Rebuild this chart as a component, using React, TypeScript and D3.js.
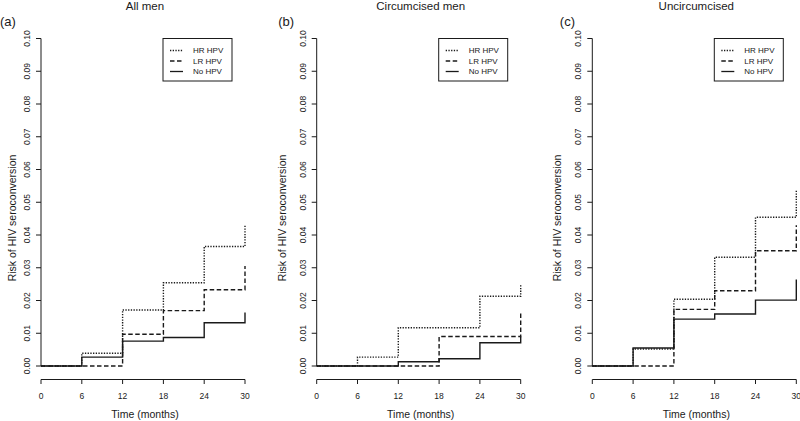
import React from "react";
import * as d3 from "d3";

const times = [0, 6, 12, 18, 24, 30];
const xTicks = [0, 6, 12, 18, 24, 30];
const yTicks = [0, 0.01, 0.02, 0.03, 0.04, 0.05, 0.06, 0.07, 0.08, 0.09, 0.1];
const panelTitles = ["All men", "Circumcised men", "Uncircumcised"];
const panelTags = ["(a)", "(b)", "(c)"];
const seriesNames = ["HR HPV", "LR HPV", "No HPV"];

const allMenHR = [0, 0.0039, 0.0171, 0.0254, 0.0365, 0.0428];
const allMenLR = [0, 0, 0.0097, 0.0169, 0.0233, 0.0305];
const allMenNo = [0, 0.0027, 0.0076, 0.0087, 0.0132, 0.0163];

const circHR = [0, 0.0027, 0.0117, 0.0117, 0.0213, 0.0251];
const circLR = [0, 0, 0, 0.009, 0.009, 0.0162];
const circNo = [0, 0, 0.0013, 0.0022, 0.0071, 0.009];

const uncircHR = [0, 0.0052, 0.0204, 0.0332, 0.0454, 0.0537];
const uncircLR = [0, 0, 0.0173, 0.023, 0.0352, 0.043];
const uncircNo = [0, 0.0055, 0.0143, 0.0159, 0.0201, 0.0264];

const panels = [
  [allMenHR, allMenLR, allMenNo],
  [circHR, circLR, circNo],
  [uncircHR, uncircLR, uncircNo],
];

const dashes = ["1.3,1.4", "4.5,2.5", null];
const panelX0 = [41, 316.7, 592.3];
const yLabelOffset = [-29, -35, -35.5];
const FONT = "'Liberation Sans', Arial, Helvetica, sans-serif";
const INK = "#1a1a1a";

function Panel({ idx }: { idx: number }) {
  const x0 = panelX0[idx];
  const x = d3.scaleLinear().domain([0, 30]).range([x0, x0 + 204]);
  const y = d3.scaleLinear().domain([0, 0.1]).range([366, 38.5]);
  const line = d3
    .line<[number, number]>()
    .x((d) => x(d[0]))
    .y((d) => y(d[1]))
    .curve(d3.curveStepAfter);
  const series = panels[idx];
  const order = [2, 1, 0];
  const axisY = 379.5;
  const cx = x0 + 104;
  const lx = x0 + 122;
  const ly = 38.5;
  return (
    <g>
      <text x={cx} y={10} textAnchor="middle" fontSize={11.5} fill={INK} fontFamily={FONT}>
        {panelTitles[idx]}
      </text>
      <text x={x0 - 41 + (idx === 0 ? 0 : idx === 1 ? 2.5 : 8.5)} y={26} fontSize={13} fill={INK} fontFamily={FONT}>
        {panelTags[idx]}
      </text>
      {order.map((s) => (
        <path
          key={s}
          d={line(times.map((t, i) => [t, series[s][i]] as [number, number])) || ""}
          fill="none"
          stroke={INK}
          strokeWidth={1.4}
          strokeDasharray={dashes[s] || undefined}
        />
      ))}
      {/* y axis */}
      <line x1={x0} x2={x0} y1={y(0)} y2={y(0.1)} stroke={INK} strokeWidth={1} />
      {yTicks.map((t) => (
        <g key={t}>
          <line x1={x0 - 5} x2={x0} y1={y(t)} y2={y(t)} stroke={INK} strokeWidth={1} />
          <text
            transform={`translate(${x0 - 14},${y(t)}) rotate(-90)`}
            textAnchor="middle"
            dominantBaseline="central"
            fontSize={8.5}
            fill={INK}
            fontFamily={FONT}
          >
            {t.toFixed(2)}
          </text>
        </g>
      ))}
      <text
        transform={`translate(${x0 + yLabelOffset[idx]},218) rotate(-90)`}
        textAnchor="middle"
        dominantBaseline="central"
        fontSize={10.5}
        fill={INK}
        fontFamily={FONT}
      >
        Risk of HIV seroconversion
      </text>
      {/* x axis */}
      <line x1={x(0)} x2={x(30)} y1={axisY} y2={axisY} stroke={INK} strokeWidth={1} />
      {xTicks.map((t) => (
        <g key={t}>
          <line x1={x(t)} x2={x(t)} y1={axisY} y2={axisY + 4.5} stroke={INK} strokeWidth={1} />
          <text x={x(t)} y={398.5} textAnchor="middle" fontSize={8.5} fill={INK} fontFamily={FONT}>
            {t}
          </text>
        </g>
      ))}
      <text x={cx} y={418} textAnchor="middle" fontSize={10.5} fill={INK} fontFamily={FONT}>
        Time (months)
      </text>
      {/* legend */}
      <rect x={lx} y={ly} width={69} height={42.5} fill="white" stroke={INK} strokeWidth={1} />
      {seriesNames.map((n, i) => (
        <g key={n}>
          <line
            x1={lx + 7}
            x2={lx + 20}
            y1={ly + 12 + i * 10.5}
            y2={ly + 12 + i * 10.5}
            stroke={INK}
            strokeWidth={1.3}
            strokeDasharray={dashes[i] || undefined}
          />
          <text
            x={lx + 30}
            y={ly + 12 + i * 10.5}
            dominantBaseline="central"
            fontSize={8}
            fill={INK}
            fontFamily={FONT}
          >
            {n}
          </text>
        </g>
      ))}
    </g>
  );
}

export default function App() {
  return (
    <svg
      width={800}
      height={421}
      style={{ position: "absolute", left: 0, top: 0, background: "white" }}
    >
      <rect width={800} height={421} fill="white" />
      {[0, 1, 2].map((i) => (
        <Panel key={i} idx={i} />
      ))}
    </svg>
  );
}
